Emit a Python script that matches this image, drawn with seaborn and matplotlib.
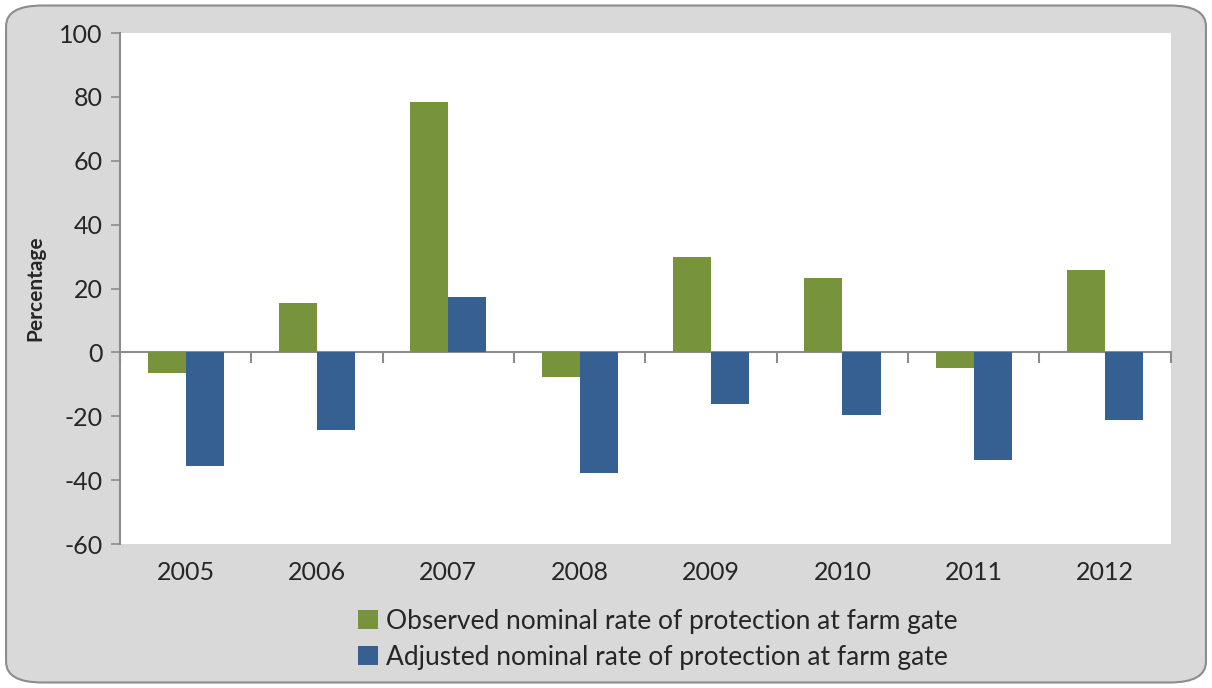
import numpy as np
import pandas as pd
import matplotlib
matplotlib.use("Agg")
import matplotlib.pyplot as plt
from matplotlib.patches import FancyBboxPatch
import seaborn as sns

years = ["2005", "2006", "2007", "2008", "2009", "2010", "2011", "2012"]
observed = [-6.3, 15.6, 78.4, -7.8, 30.0, 23.4, -5.0, 25.9]
adjusted = [-35.5, -24.2, 17.2, -37.8, -16.3, -19.7, -33.8, -21.1]
series_names = ["Observed nominal rate of protection at farm gate",
                "Adjusted nominal rate of protection at farm gate"]
colors = ["#77933C", "#376092"]

df = pd.DataFrame({
    "year": years * 2,
    "value": observed + adjusted,
    "series": [series_names[0]] * len(years) + [series_names[1]] * len(years),
})

sns.set_style("white")
plt.rcParams["font.family"] = ["Lato", "DejaVu Sans"]
plt.rcParams["axes.unicode_minus"] = False

fig = plt.figure(figsize=(12.12, 6.88), dpi=100)
# gray rounded chart background
bg = FancyBboxPatch((0.005, 0.008), 0.99, 0.984,
                    boxstyle="round,pad=0,rounding_size=0.03",
                    transform=fig.transFigure, facecolor="#D9D9D9",
                    edgecolor="#8C8C8C", linewidth=1.5, zorder=-10)
fig.patches.append(bg)

ax = fig.add_axes([0.099, 0.2093, 0.867, 0.7427])
sns.barplot(data=df, x="year", y="value", hue="series", palette=colors,
            width=0.58, ax=ax, linewidth=0, saturation=1)

ax.set_ylim(-60, 100)
ax.set_xlim(-0.5, len(years) - 0.5)
ax.set_yticks(np.arange(-60, 101, 20))
ax.set_facecolor("white")

for s in ["top", "right", "bottom"]:
    ax.spines[s].set_visible(False)
ax.spines["left"].set_color("#8C8C8C")
ax.spines["left"].set_linewidth(1.5)

ax.tick_params(axis="y", direction="out", length=6.5, width=1.2,
               color="#8C8C8C", labelsize=18, pad=6, left=True)
ax.tick_params(axis="x", length=0, labelsize=18, pad=12)
ax.set_xlabel("")
ax.set_ylabel("Percentage", fontsize=15, fontweight="bold", labelpad=10)

# zero axis with category-boundary ticks
zero_ax = ax.secondary_xaxis((0 + 60) / 160)
zero_ax.set_xticks(np.arange(len(years) + 1) - 0.5)
zero_ax.tick_params(axis="x", direction="out", length=8, width=1.5,
                    color="#8C8C8C", labelbottom=False, labeltop=False,
                    bottom=True, top=False)
zero_ax.spines["bottom"].set_color("#8C8C8C")
zero_ax.spines["bottom"].set_linewidth(1.5)
zero_ax.spines["top"].set_visible(False)

handles, labels = ax.get_legend_handles_labels()
ax.get_legend().remove()
fig.legend(handles, labels, loc="lower center", bbox_to_anchor=(0.543, -0.008),
           ncol=1, frameon=False, fontsize=19, handlelength=0.75,
           handleheight=0.75, handletextpad=0.3, labelspacing=0.42)

fig.savefig("out.png", dpi=100)
